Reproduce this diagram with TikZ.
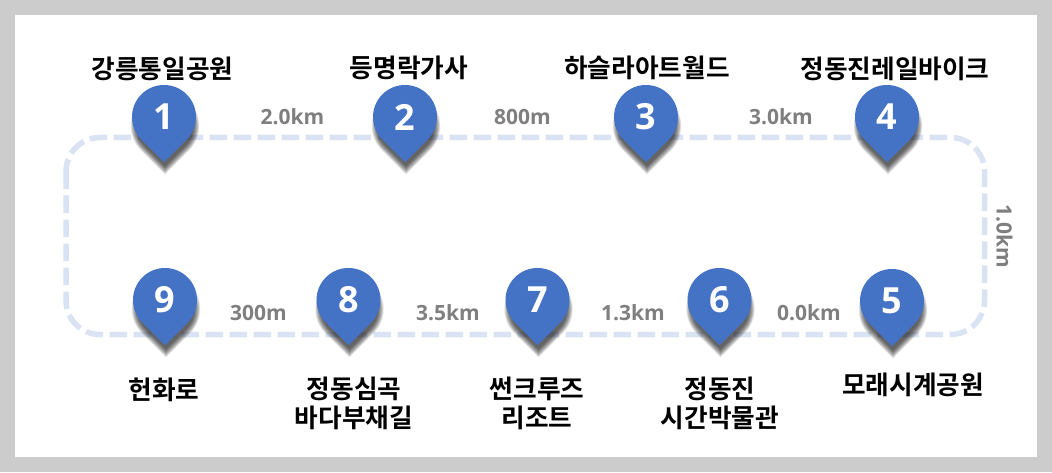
\documentclass[tikz,border=0pt]{standalone}
\usepackage{fontspec}
\setmainfont{Noto Sans CJK KR Bold}
\newfontfamily\latinb{Open Sans}[BoldFont={Open Sans Bold}]
\definecolor{pinblue}{HTML}{4472C4}
\definecolor{routeblue}{HTML}{DAE3F3}
\definecolor{distgray}{HTML}{7F7F7F}
\definecolor{pagegray}{HTML}{CCCCCC}
\tikzset{
  routeline/.style={draw=routeblue,line width=5.5pt,rounded corners=34pt,dash pattern=on 17.5pt off 6.5pt},
  placelabel/.style={font=\fontsize{25.7}{28.5}\selectfont,text=black,align=center,inner sep=0pt},
  distlabel/.style={font=\latinb\bfseries\fontsize{21}{24}\selectfont,text=distgray,inner sep=0pt},
  pinnum/.style={font=\latinb\bfseries\fontsize{36}{36}\selectfont,text=white,inner sep=0pt},
}
\newcommand{\pinpath}{(0,-45.25) -- (-45:32) arc (-45:225:32) -- cycle}
\newcommand{\mappin}[4]{%
  \foreach \s in {1.07,1.05,1.03,1.01,0.99,0.97,0.95,0.93,0.91,0.89}{
    \fill[black,opacity=0.085,shift={(#2+1,472-#3-9)},scale=\s] \pinpath;
  }
  \fill[pinblue,shift={(#2,472-#3)}] \pinpath;
  \node[pinnum] (#1) at (#2,472-#3) {#4};
}
\begin{document}
\begin{tikzpicture}[x=1pt,y=1pt]
\useasboundingbox (0,0) rectangle (1052,472);
\fill[pagegray] (0,0) rectangle (1052,472);
\fill[white] (15,15) rectangle (1037,457);
\coordinate (routeA) at (66,334.5);
\coordinate (routeB) at (984.5,137.5);
\draw[routeline] (routeA) rectangle (routeB);
\mappin{p1}{164}{117}{1}
\mappin{p2}{405}{117}{2}
\mappin{p3}{646}{117}{3}
\mappin{p4}{887}{117}{4}
\mappin{p9}{165}{300}{9}
\mappin{p8}{348.5}{300}{8}
\mappin{p7}{537.5}{300}{7}
\mappin{p6}{719.5}{300}{6}
\mappin{p5}{892}{301}{5}
\node[placelabel] (t1) at (162.5,403) {강릉통일공원};
\node[placelabel] (t2) at (409,404) {등명락가사};
\node[placelabel] (t3) at (647,404) {하슬라아트월드};
\node[placelabel] (t4) at (895,403) {정동진레일바이크};
\node[placelabel] (t9) at (164,82.5) {헌화로};
\node[placelabel] (t8) at (354,68.5) {정동심곡\\바다부채길};
\node[placelabel] (t7) at (537,68.5) {썬크루즈\\리조트};
\node[placelabel] (t6) at (720,68.5) {정동진\\시간박물관};
\node[placelabel] (t5) at (913,87.5) {모래시계공원};
\node[distlabel] (d1) at (292.5,355) {2.0km};
\node[distlabel] (d2) at (522.5,355) {800m};
\node[distlabel] (d3) at (781,355) {3.0km};
\node[distlabel,rotate=-90] (d4) at (1004.5,236) {1.0km};
\node[distlabel] (d5) at (809,159) {0.0km};
\node[distlabel] (d6) at (633,159) {1.3km};
\node[distlabel] (d7) at (448,159) {3.5km};
\node[distlabel] (d8) at (258.5,159) {300m};
\end{tikzpicture}
\end{document}
